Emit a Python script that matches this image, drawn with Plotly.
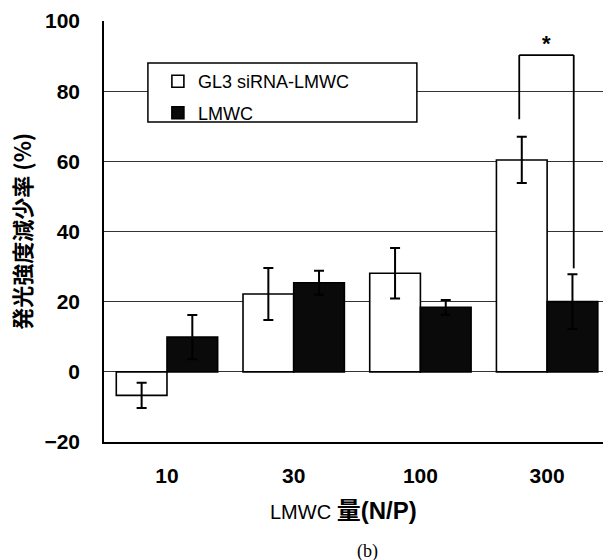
import plotly.graph_objects as go

# ---- data ----
categories = ["10", "30", "100", "300"]
series_names = ["GL3 siRNA-LMWC", "LMWC"]
gl3_values = [-6.7, 22.2, 28.1, 60.4]
gl3_errors = [3.6, 7.4, 7.2, 6.6]
lmwc_values = [9.9, 25.4, 18.4, 20.0]
lmwc_errors = [6.3, 3.4, 2.1, 7.8]
y_ticks = [-20, 0, 20, 40, 60, 80, 100]

# significance bracket (category "300")
sig_index = 3
sig_top = 90.3
sig_left_bottom = 72.0
sig_right_bottom = 29.5

tick_font = dict(family="Liberation Sans, Arial, sans-serif", size=21, color="black", weight="bold")

fig = go.Figure()
fig.add_trace(go.Bar(
    x=categories, y=gl3_values, name=series_names[0], legendgroup="a",
    marker=dict(color="white", line=dict(color="black", width=1.6)),
    error_y=dict(type="data", array=gl3_errors, color="black", thickness=2, width=5),
))
fig.add_trace(go.Bar(
    x=categories, y=lmwc_values, name=series_names[1], legendgroup="b",
    marker=dict(color="#0a0a0a", line=dict(color="black", width=1.6)),
    error_y=dict(type="data", array=lmwc_errors, color="black", thickness=2, width=5),
))

bar_half = 0.2  # offset of each bar centre within a group (bargap 0.2, 2 bars)
xl = sig_index - bar_half - 0.02
xr = sig_index + bar_half + 0.01
line_style = dict(color="black", width=1.8)
fig.add_shape(type="line", x0=xl, x1=xl, y0=sig_left_bottom, y1=sig_top, xref="x", yref="y", line=line_style, layer="above")
fig.add_shape(type="line", x0=xl, x1=xr, y0=sig_top, y1=sig_top, xref="x", yref="y", line=line_style, layer="above")
fig.add_shape(type="line", x0=xr, x1=xr, y0=sig_top, y1=sig_right_bottom, xref="x", yref="y", line=line_style, layer="above")

# legend box
fig.add_shape(type="rect", xref="paper", yref="paper", x0=0.088, x1=0.627, y0=0.760, y1=0.900,
              fillcolor="white", line=dict(color="black", width=1.5), layer="above")

fig.add_annotation(x=(xl + xr) / 2, y=sig_top + 3.2, xref="x", yref="y", text="<b>*</b>",
                   showarrow=False, font=dict(family="Liberation Sans, Arial", size=22, color="black"),
                   xanchor="center", yanchor="middle")

# y title
fig.add_annotation(x=-0.168, y=0.50, xref="paper", yref="paper", text="<b>発光強度減少率 (%)</b>",
                   textangle=-90, showarrow=False, xanchor="center", yanchor="middle",
                   font=dict(family="Noto Sans CJK JP", size=22, color="black"))
# x title
fig.add_annotation(x=0.479, y=-0.162, xref="paper", yref="paper",
                   text="LMWC <b><span style='font-size:24px'>量(N/P)</span></b>",
                   showarrow=False, xanchor="center", yanchor="middle",
                   font=dict(family="Liberation Sans, Noto Sans CJK JP", size=20, color="black"))
# caption
fig.add_annotation(x=0.529, y=-0.261, xref="paper", yref="paper", text="(b)",
                   showarrow=False, xanchor="center", yanchor="middle",
                   font=dict(family="Liberation Serif, Times New Roman, serif", size=18, color="black"))

fig.update_layout(
    width=603, height=560,
    margin=dict(l=104, r=0, t=21, b=118),
    paper_bgcolor="white", plot_bgcolor="white",
    barmode="group", bargap=0.2, bargroupgap=0.0,
    showlegend=True,
    legend=dict(x=0.108, y=0.900, xanchor="left", yanchor="top",
                bgcolor="rgba(0,0,0,0)", borderwidth=0, tracegroupgap=5,
                font=dict(family="Liberation Sans, Arial", size=18, color="black")),
    xaxis=dict(type="category", range=[-0.497, 3.441], showgrid=False, zeroline=False,
               showline=True, linecolor="black", linewidth=1.6, ticks="",
               tickfont=tick_font, ticklabelstandoff=14),
    yaxis=dict(range=[-20, 100], tickvals=y_ticks, showgrid=True, gridcolor="#333333", gridwidth=1,
               zeroline=True, zerolinecolor="#333333", zerolinewidth=1,
               showline=True, linecolor="black", linewidth=1.6, ticks="",
               tickfont=tick_font, ticklabelstandoff=18),
)

fig.write_html("out.html")
